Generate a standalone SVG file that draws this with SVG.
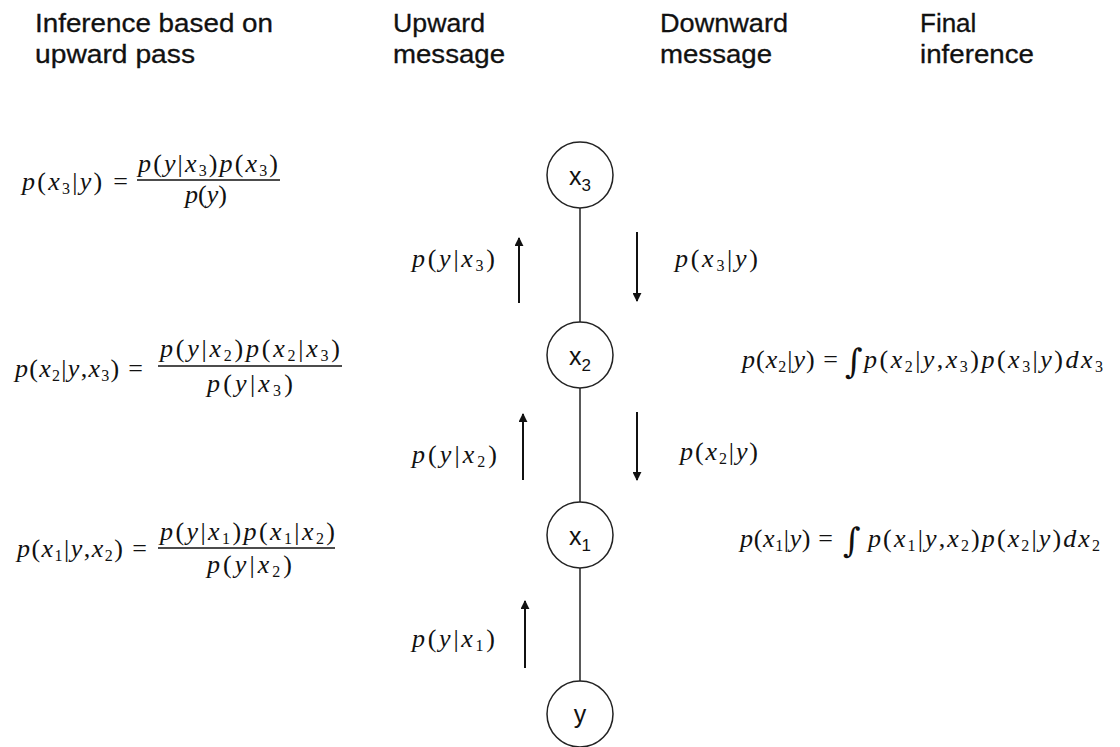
<svg xmlns="http://www.w3.org/2000/svg" width="1120" height="747" viewBox="0 0 1120 747">
<style>
.h{font-family:"Liberation Sans",Arial,sans-serif;font-size:26px;fill:#111;stroke:#111;stroke-width:0.3}
.m{font-family:"Liberation Serif","Times New Roman",serif;font-size:26px;fill:#111}
.i{font-style:italic}
.s{font-size:16px}
.n{font-family:"Liberation Sans",Arial,sans-serif;font-size:25px;fill:#111;text-anchor:middle}
.ns{font-size:17px}
.node{fill:#fff;stroke:#222;stroke-width:1.5}
.edge{stroke:#222;stroke-width:1.5;fill:none}
.arr{stroke:#111;stroke-width:2;fill:none;marker-end:url(#ah)}
.bar{stroke:#111;stroke-width:1.3}
.int{font-family:"DejaVu Serif",serif;font-size:34px;fill:#111}
</style>
<defs>
<marker id="ah" viewBox="0 0 10 10" refX="9" refY="5" markerWidth="4.5" markerHeight="4.5" orient="auto-start-reverse" markerUnits="strokeWidth">
<path d="M0,0 L10,5 L0,10 z" fill="#111"/>
</marker>
</defs>
<rect width="1120" height="747" fill="#fff"/>

<g id="headers">
<text class="h" x="35" y="32" textLength="238" lengthAdjust="spacingAndGlyphs">Inference based on</text>
<text class="h" x="35" y="63" textLength="160" lengthAdjust="spacingAndGlyphs">upward pass</text>
<text class="h" x="393" y="32" textLength="92" lengthAdjust="spacingAndGlyphs">Upward</text>
<text class="h" x="393" y="63" textLength="112" lengthAdjust="spacingAndGlyphs">message</text>
<text class="h" x="660" y="32" textLength="128" lengthAdjust="spacingAndGlyphs">Downward</text>
<text class="h" x="660" y="63" textLength="112" lengthAdjust="spacingAndGlyphs">message</text>
<text class="h" x="920" y="32">Final</text>
<text class="h" x="920" y="63" textLength="114" lengthAdjust="spacingAndGlyphs">inference</text>
</g>

<g id="connectors">
<line class="edge" x1="580" y1="208" x2="580" y2="322"/>
<line class="edge" x1="580" y1="388" x2="580" y2="502"/>
<line class="edge" x1="580" y1="568" x2="580" y2="682"/>
<line class="arr" x1="519" y1="303" x2="519" y2="238"/>
<line class="arr" x1="637" y1="232" x2="637" y2="301"/>
<line class="arr" x1="523" y1="480" x2="523" y2="414"/>
<line class="arr" x1="637" y1="412" x2="637" y2="480"/>
<line class="arr" x1="525" y1="668" x2="525" y2="601"/>
</g>

<g id="node-x3"><circle class="node" cx="580" cy="175" r="33"/><text class="n" x="580" y="185">x<tspan class="ns" dy="6">3</tspan></text></g>
<g id="node-x2"><circle class="node" cx="580" cy="355" r="33"/><text class="n" x="580" y="365">x<tspan class="ns" dy="6">2</tspan></text></g>
<g id="node-x1"><circle class="node" cx="580" cy="535" r="33"/><text class="n" x="580" y="545">x<tspan class="ns" dy="6">1</tspan></text></g>
<g id="node-y"><circle class="node" cx="580" cy="714" r="33"/><text class="n" x="580" y="723">y</text></g>

<g id="messages">
<text class="m" x="412" y="267" textLength="83"><tspan class="i">p</tspan>(<tspan class="i">y</tspan>|<tspan class="i">x</tspan><tspan class="s" dy="4">3</tspan><tspan dy="-4">)</tspan></text>
<text class="m" x="412" y="463" textLength="85"><tspan class="i">p</tspan>(<tspan class="i">y</tspan>|<tspan class="i">x</tspan><tspan class="s" dy="4">2</tspan><tspan dy="-4">)</tspan></text>
<text class="m" x="412" y="647" textLength="83"><tspan class="i">p</tspan>(<tspan class="i">y</tspan>|<tspan class="i">x</tspan><tspan class="s" dy="4">1</tspan><tspan dy="-4">)</tspan></text>
<text class="m" x="675" y="267" textLength="83"><tspan class="i">p</tspan>(<tspan class="i">x</tspan><tspan class="s" dy="4">3</tspan><tspan dy="-4">|</tspan><tspan class="i">y</tspan>)</text>
<text class="m" x="680" y="460" textLength="78"><tspan class="i">p</tspan>(<tspan class="i">x</tspan><tspan class="s" dy="4">2</tspan><tspan dy="-4">|</tspan><tspan class="i">y</tspan>)</text>
</g>

<g id="formula-x3">
<text class="m" x="22" y="190" textLength="106"><tspan class="i">p</tspan>(<tspan class="i">x</tspan><tspan class="s" dy="4">3</tspan><tspan dy="-4">|</tspan><tspan class="i">y</tspan>) =</text>
<text class="m" x="138" y="172" textLength="140"><tspan class="i">p</tspan>(<tspan class="i">y</tspan>|<tspan class="i">x</tspan><tspan class="s" dy="4">3</tspan><tspan dy="-4">)</tspan><tspan class="i">p</tspan>(<tspan class="i">x</tspan><tspan class="s" dy="4">3</tspan><tspan dy="-4">)</tspan></text>
<line class="bar" x1="137" y1="180" x2="280" y2="180"/>
<text class="m" x="185" y="203" textLength="42"><tspan class="i">p</tspan>(<tspan class="i">y</tspan>)</text>
</g>

<g id="formula-x2">
<text class="m" x="15" y="377" textLength="128"><tspan class="i">p</tspan>(<tspan class="i">x</tspan><tspan class="s" dy="4">2</tspan><tspan dy="-4">|</tspan><tspan class="i">y</tspan>,<tspan class="i">x</tspan><tspan class="s" dy="4">3</tspan><tspan dy="-4">) =</tspan></text>
<text class="m" x="160" y="357" textLength="180"><tspan class="i">p</tspan>(<tspan class="i">y</tspan>|<tspan class="i">x</tspan><tspan class="s" dy="4">2</tspan><tspan dy="-4">)</tspan><tspan class="i">p</tspan>(<tspan class="i">x</tspan><tspan class="s" dy="4">2</tspan><tspan dy="-4">|</tspan><tspan class="i">x</tspan><tspan class="s" dy="4">3</tspan><tspan dy="-4">)</tspan></text>
<line class="bar" x1="158" y1="366" x2="342" y2="366"/>
<text class="m" x="207" y="392" textLength="86"><tspan class="i">p</tspan>(<tspan class="i">y</tspan>|<tspan class="i">x</tspan><tspan class="s" dy="4">3</tspan><tspan dy="-4">)</tspan></text>
</g>

<g id="formula-x1">
<text class="m" x="17" y="557" textLength="130"><tspan class="i">p</tspan>(<tspan class="i">x</tspan><tspan class="s" dy="4">1</tspan><tspan dy="-4">|</tspan><tspan class="i">y</tspan>,<tspan class="i">x</tspan><tspan class="s" dy="4">2</tspan><tspan dy="-4">) =</tspan></text>
<text class="m" x="160" y="540" textLength="175"><tspan class="i">p</tspan>(<tspan class="i">y</tspan>|<tspan class="i">x</tspan><tspan class="s" dy="4">1</tspan><tspan dy="-4">)</tspan><tspan class="i">p</tspan>(<tspan class="i">x</tspan><tspan class="s" dy="4">1</tspan><tspan dy="-4">|</tspan><tspan class="i">x</tspan><tspan class="s" dy="4">2</tspan><tspan dy="-4">)</tspan></text>
<line class="bar" x1="158" y1="548" x2="335" y2="548"/>
<text class="m" x="207" y="573" textLength="85"><tspan class="i">p</tspan>(<tspan class="i">y</tspan>|<tspan class="i">x</tspan><tspan class="s" dy="4">2</tspan><tspan dy="-4">)</tspan></text>
</g>

<g id="final-x2">
<text class="m" x="742" y="368" textLength="96"><tspan class="i">p</tspan>(<tspan class="i">x</tspan><tspan class="s" dy="4">2</tspan><tspan dy="-4">|</tspan><tspan class="i">y</tspan>) =</text>
<text class="int" x="845" y="373">∫</text>
<text class="m" x="864" y="368" textLength="239"><tspan class="i">p</tspan>(<tspan class="i">x</tspan><tspan class="s" dy="4">2</tspan><tspan dy="-4">|</tspan><tspan class="i">y</tspan>,<tspan class="i">x</tspan><tspan class="s" dy="4">3</tspan><tspan dy="-4">)</tspan><tspan class="i">p</tspan>(<tspan class="i">x</tspan><tspan class="s" dy="4">3</tspan><tspan dy="-4">|</tspan><tspan class="i">y</tspan>)<tspan class="i">dx</tspan><tspan class="s" dy="4">3</tspan></text>
</g>

<g id="final-x1">
<text class="m" x="740" y="547" textLength="93"><tspan class="i">p</tspan>(<tspan class="i">x</tspan><tspan class="s" dy="4">1</tspan><tspan dy="-4">|</tspan><tspan class="i">y</tspan>) =</text>
<text class="int" x="843" y="552">∫</text>
<text class="m" x="868" y="547" textLength="232"><tspan class="i">p</tspan>(<tspan class="i">x</tspan><tspan class="s" dy="4">1</tspan><tspan dy="-4">|</tspan><tspan class="i">y</tspan>,<tspan class="i">x</tspan><tspan class="s" dy="4">2</tspan><tspan dy="-4">)</tspan><tspan class="i">p</tspan>(<tspan class="i">x</tspan><tspan class="s" dy="4">2</tspan><tspan dy="-4">|</tspan><tspan class="i">y</tspan>)<tspan class="i">dx</tspan><tspan class="s" dy="4">2</tspan></text>
</g>
</svg>
